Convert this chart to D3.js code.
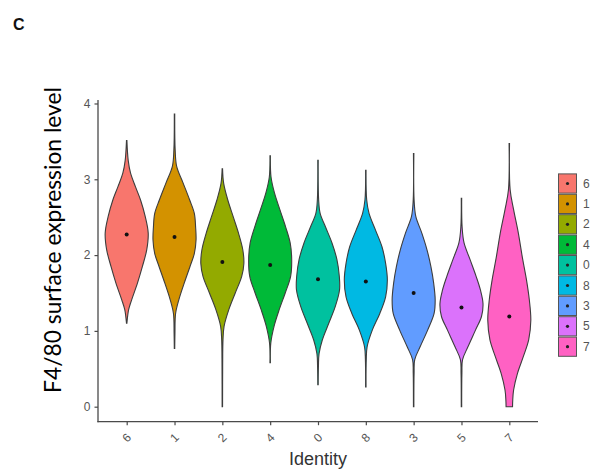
<!DOCTYPE html>
<html>
<head>
<meta charset="utf-8">
<script src="https://cdn.jsdelivr.net/npm/d3@7"></script>
<style>
  html, body { margin: 0; padding: 0; background: #fff; }
  svg { display: block; }
</style>
</head>
<body>
<svg id="chart" width="599" height="474"></svg>
<script>
// ---- data ----
const clusters = ["6", "1", "2", "4", "0", "8", "3", "5", "7"];
const colors = ["#F8766D", "#D39200", "#93AA00", "#00BA38", "#00C19F", "#00B9E3", "#619CFF", "#DB72FB", "#FF61C3"];
const medians = [2.27, 2.24, 1.91, 1.87, 1.68, 1.65, 1.50, 1.31, 1.19];
const yTicks = [0, 1, 2, 3, 4];

// density profiles: [expression value, relative density]
const dens6 = [[1.10,0.01],[1.28,0.09],[1.41,0.23],[1.63,0.5],[1.85,0.73],[2.07,0.93],[2.29,1.0],[2.51,0.86],[2.73,0.64],[2.90,0.41],[3.08,0.18],[3.25,0.07],[3.51,0.01]];
const dens1 = [[0.77,0.01],[0.97,0.02],[1.23,0.05],[1.41,0.2],[1.63,0.45],[1.85,0.72],[2.02,0.92],[2.20,1.0],[2.37,0.98],[2.55,0.92],[2.73,0.7],[2.95,0.4],[3.17,0.1],[3.39,0.03],[3.86,0.01]];
const dens2 = [[0.0,0.01],[0.53,0.015],[0.88,0.03],[1.06,0.08],[1.28,0.3],[1.50,0.6],[1.72,0.9],[1.89,1.0],[2.07,0.95],[2.29,0.75],[2.51,0.5],[2.73,0.25],[2.95,0.06],[3.14,0.01]];
const dens4 = [[0.58,0.01],[0.84,0.03],[1.06,0.18],[1.28,0.42],[1.50,0.7],[1.72,0.95],[1.94,1.0],[2.16,0.93],[2.37,0.72],[2.60,0.45],[2.82,0.2],[3.03,0.04],[3.31,0.01]];
const dens0 = [[0.29,0.01],[0.53,0.02],[0.70,0.05],[0.88,0.2],[1.10,0.5],[1.32,0.8],[1.54,1.0],[1.72,0.99],[1.94,0.88],[2.16,0.65],[2.37,0.35],[2.55,0.1],[2.73,0.03],[3.25,0.01]];
const dens8 = [[0.26,0.01],[0.62,0.02],[0.79,0.06],[1.01,0.3],[1.23,0.65],[1.45,0.92],[1.67,1.0],[1.89,0.92],[2.11,0.75],[2.33,0.45],[2.55,0.15],[2.73,0.04],[3.12,0.01]];
const dens3 = [[0.0,0.01],[0.44,0.02],[0.62,0.05],[0.79,0.3],[1.01,0.65],[1.23,0.95],[1.41,1.0],[1.63,0.93],[1.85,0.8],[2.07,0.62],[2.29,0.38],[2.51,0.1],[2.73,0.02],[3.34,0.01]];
const dens5 = [[0.0,0.01],[0.44,0.02],[0.62,0.05],[0.79,0.3],[1.01,0.65],[1.19,0.93],[1.36,1.0],[1.54,0.88],[1.72,0.68],[1.94,0.4],[2.16,0.12],[2.37,0.03],[2.75,0.01]];
const dens7 = [[0.0,0.15],[0.09,0.16],[0.22,0.2],[0.44,0.38],[0.66,0.65],[0.88,0.9],[1.14,1.0],[1.41,0.93],[1.67,0.8],[1.98,0.6],[2.29,0.42],[2.60,0.2],[2.86,0.04],[3.47,0.01]];
const densities = [dens6, dens1, dens2, dens4, dens0, dens8, dens3, dens5, dens7];

// ---- layout ----
const svg = d3.select("#chart");
const pLeft = 98, pRight = 538, pTop = 100, pBottom = 421.7;

const x = d3.scalePoint().domain(clusters).range([pLeft, pRight]).padding(0.6);
const y = d3.scaleLinear().domain([-0.198, 4.046]).range([pBottom, pTop]);
const halfW = x.step() * 0.45;

// panel label
svg.append("text").attr("x", 13).attr("y", 30)
  .attr("font-family", "Liberation Sans, Arial, sans-serif")
  .attr("font-weight", "bold").attr("font-size", 16).attr("fill", "#111").text("C");

// violins
clusters.forEach((c, i) => {
  const cx = x(c);
  const area = d3.area()
    .y(d => y(d[0]))
    .x0(d => cx - halfW * d[1])
    .x1(d => cx + halfW * d[1])
    .curve(d3.curveCatmullRom.alpha(0.5));
  svg.append("path")
    .attr("d", area(densities[i]))
    .attr("fill", colors[i])
    .attr("stroke", "#3d3d3d")
    .attr("stroke-width", 1.1);
  svg.append("circle")
    .attr("cx", cx).attr("cy", y(medians[i])).attr("r", 2)
    .attr("fill", "#111");
});

// axes
const axisColor = "#4a4a4a";
const tickFont = "Liberation Sans, Arial, sans-serif";

const yAxis = svg.append("g").attr("transform", `translate(${pLeft},0)`)
  .call(d3.axisLeft(y).tickValues(yTicks).tickSize(3.5).tickPadding(4).tickFormat(d3.format("d")));
const xAxis = svg.append("g").attr("transform", `translate(0,${pBottom})`)
  .call(d3.axisBottom(x).tickSize(3.5).tickFormat(""));
[yAxis, xAxis].forEach(g => {
  g.select(".domain").remove();
  g.selectAll(".tick line").attr("stroke", axisColor).attr("stroke-width", 1.2);
  g.selectAll("text").attr("fill", "#555").attr("font-family", tickFont).attr("font-size", 12);
});
svg.append("line").attr("x1", pLeft).attr("x2", pLeft).attr("y1", pTop).attr("y2", pBottom + 0.6)
  .attr("stroke", axisColor).attr("stroke-width", 1.3);
svg.append("line").attr("x1", pLeft - 0.6).attr("x2", pRight).attr("y1", pBottom).attr("y2", pBottom)
  .attr("stroke", axisColor).attr("stroke-width", 1.3);

// rotated x tick labels
svg.append("g").selectAll("text").data(clusters).join("text")
  .attr("transform", d => `translate(${x(d)},${pBottom + 16}) rotate(-45)`)
  .attr("text-anchor", "middle").attr("dominant-baseline", "central")
  .attr("font-family", tickFont).attr("font-size", 12).attr("fill", "#555")
  .text(d => d);

// axis titles
svg.append("text").attr("x", 318).attr("y", 465)
  .attr("text-anchor", "middle")
  .attr("font-family", tickFont).attr("font-size", 18).attr("fill", "#333")
  .text("Identity");

const yTitle = svg.append("text")
  .attr("transform", `translate(61,240) rotate(-90)`)
  .attr("text-anchor", "middle")
  .attr("font-family", "Lato, 'Open Sans', sans-serif").attr("font-size", 20).attr("fill", "#000")
  .text("F4/80 surface expression level");
const len = yTitle.node().getComputedTextLength();
yTitle.attr("font-size", 20 * 306 / len);

// legend
const keyX = 558.5, keyY0 = 173.3, keyH = 20.4, keyW = 18;
const legend = svg.append("g");
clusters.forEach((c, i) => {
  const ky = keyY0 + i * keyH;
  legend.append("rect").attr("x", keyX).attr("y", ky + 0.6).attr("width", keyW).attr("height", keyH - 1.2)
    .attr("fill", colors[i]).attr("stroke", "#555").attr("stroke-width", 1);
  legend.append("circle").attr("cx", keyX + keyW / 2).attr("cy", ky + keyH / 2).attr("r", 1.6).attr("fill", "#222");
  legend.append("text").attr("x", 583).attr("y", ky + keyH / 2)
    .attr("dominant-baseline", "central")
    .attr("font-family", tickFont).attr("font-size", 12).attr("fill", "#555")
    .text(c);
});
</script>
</body>
</html>
